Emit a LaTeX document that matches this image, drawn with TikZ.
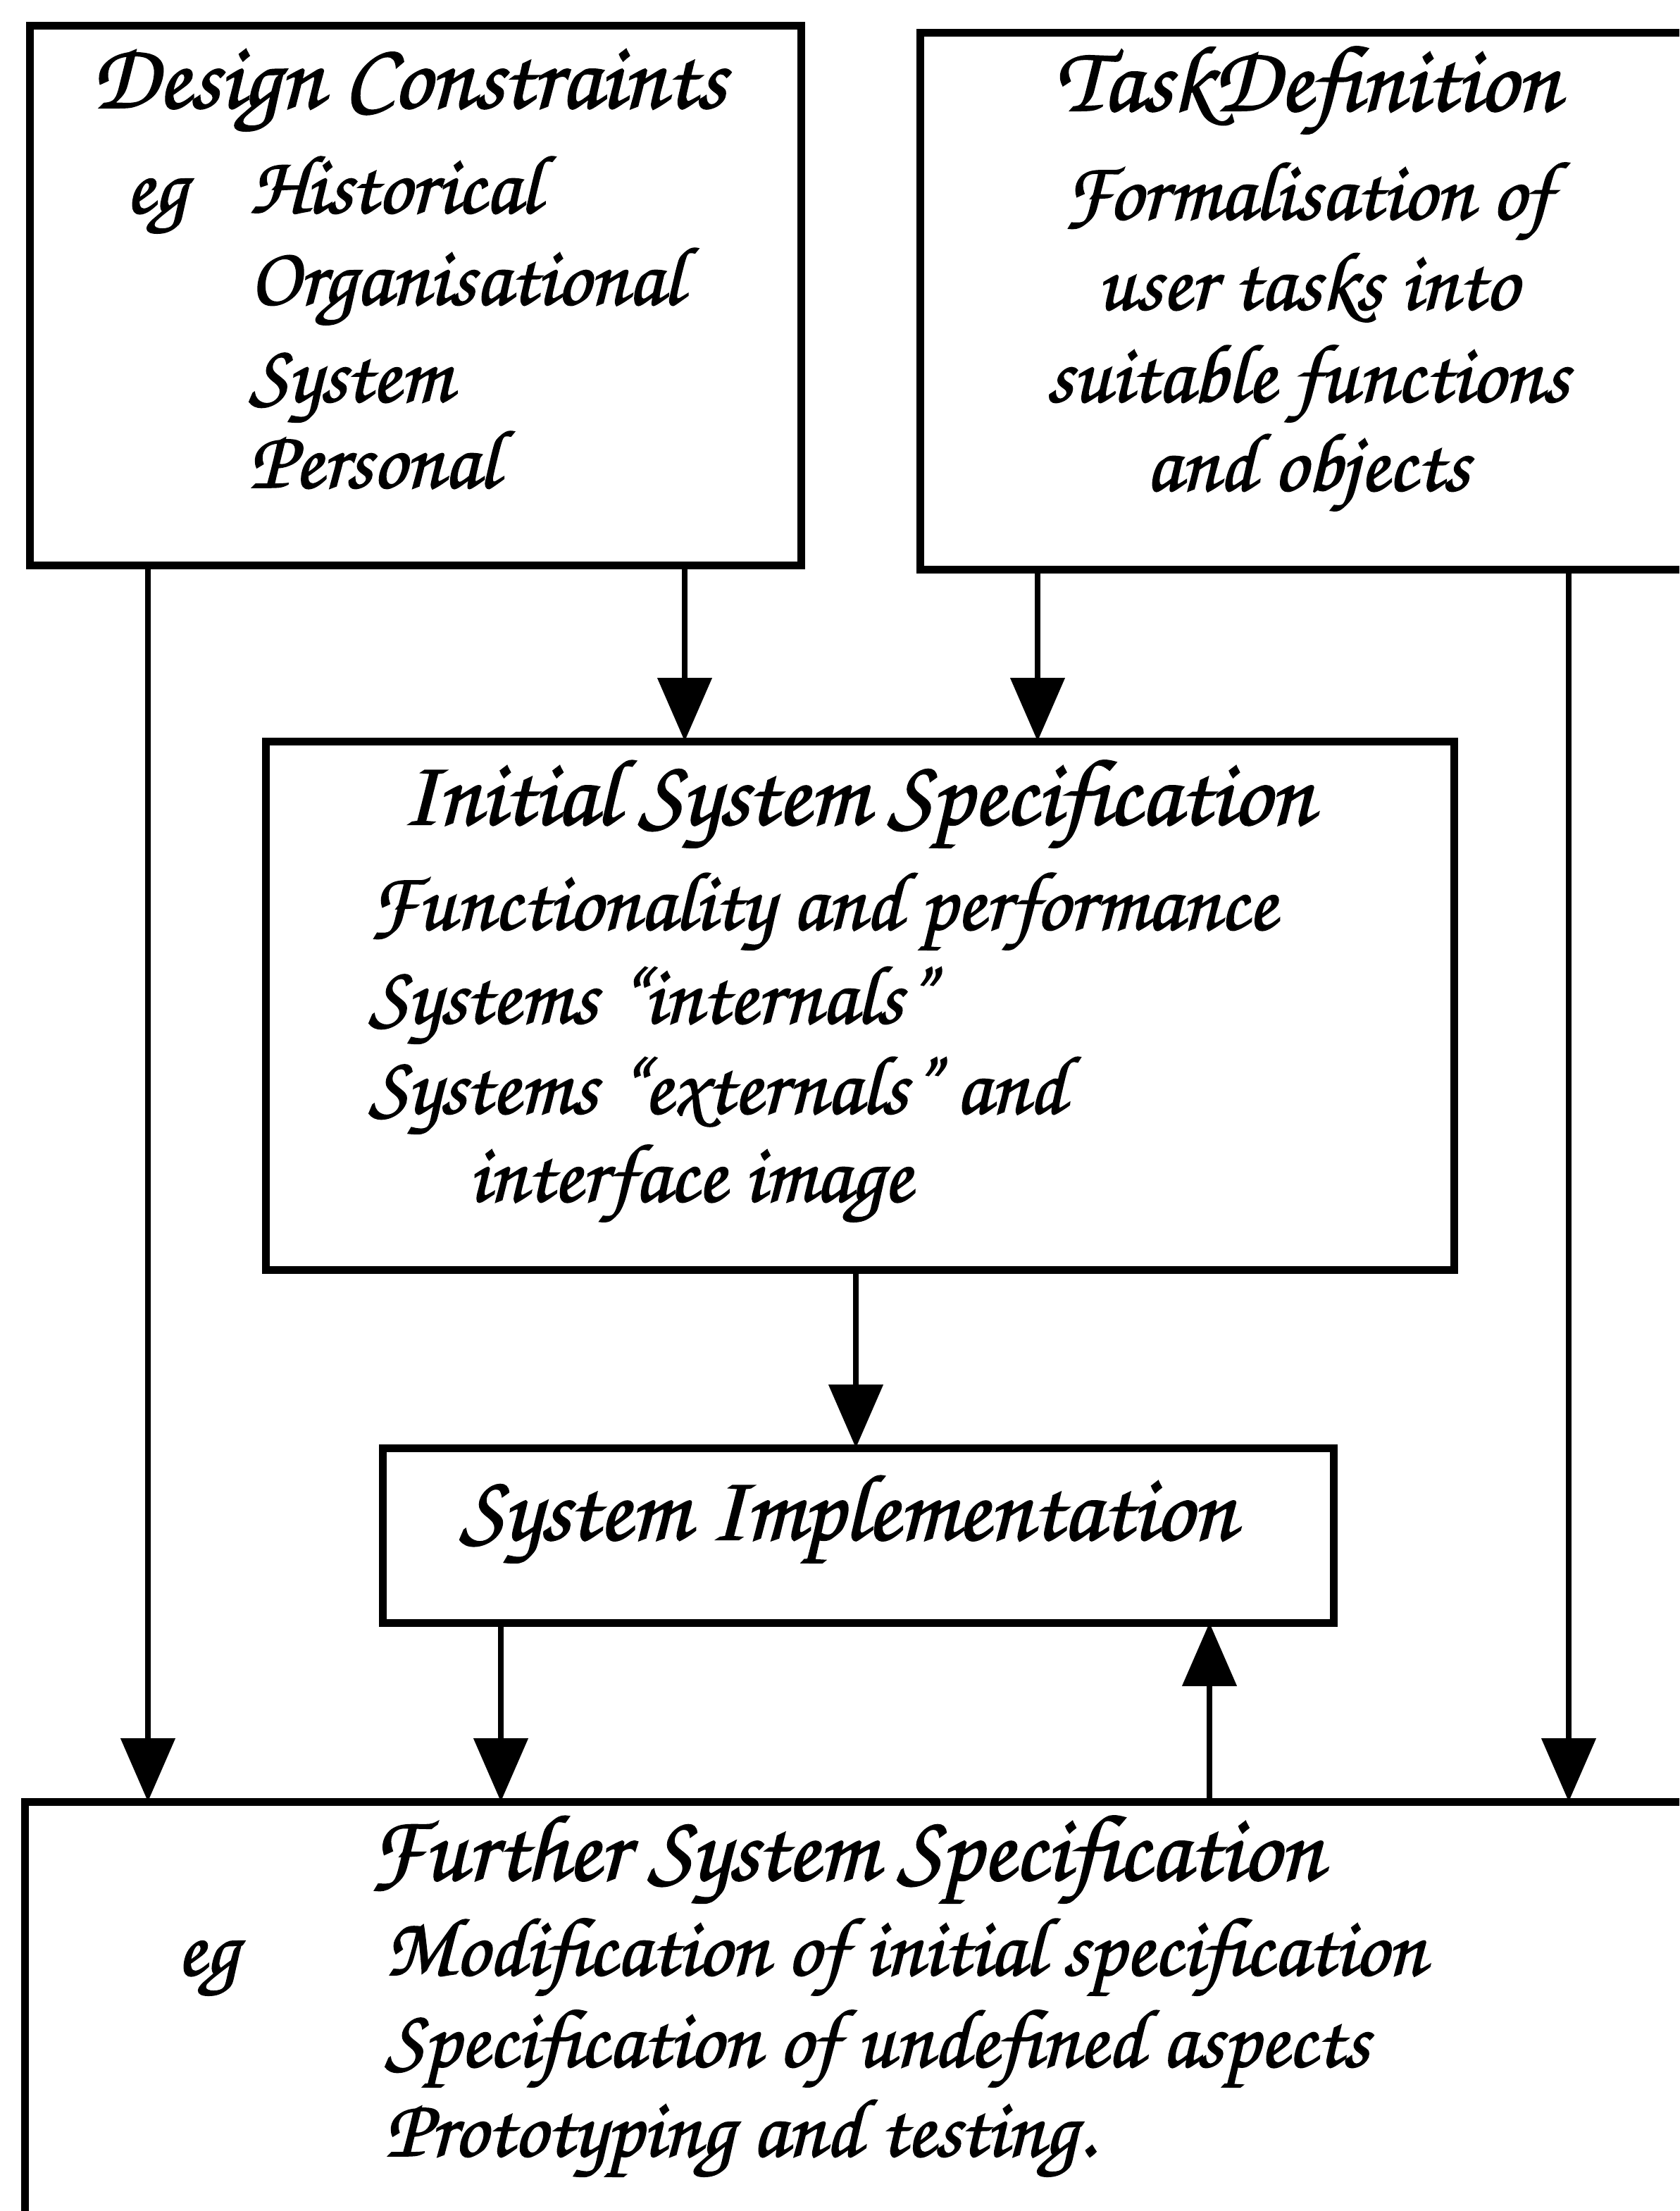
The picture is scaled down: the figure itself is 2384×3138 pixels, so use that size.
\documentclass[tikz,border=0pt]{standalone}
\usepackage{fontspec}
\usetikzlibrary{arrows.meta,fit}
% TeX Gyre Chorus, a chancery italic, loaded by file name
\newfontfamily\chorus{texgyrechorus-mediumitalic.otf}[FakeBold=1.6]

\begin{document}
\begin{tikzpicture}[x=0.1mm,y=-0.1mm,
  box/.style={draw, line width=1.1mm, rectangle, inner sep=0pt, outer sep=0pt},
  txt/.style={inner sep=0pt, outer sep=0pt, anchor=base west,
    font=\chorus\fontsize{33.5pt}{40pt}\selectfont},
  head/.style={txt, font=\chorus\fontsize{38pt}{44pt}\selectfont},
  ctxt/.style={txt, anchor=base},
  flow/.style={line width=0.8mm, -{Triangle[length=9mm,width=7.6mm]}}
]
\clip (0,0) rectangle (2384,3138);
\useasboundingbox (0,0) rectangle (2384,3138);

% boxes
\node[box, fit={(42,37) (1137,802)}] (dc) {};
\node[box, fit={(1306,47) (2440,808)}] (td) {};
\node[box, fit={(377,1052) (2064,1802)}] (iss) {};
\node[box, fit={(543,2055) (1893,2303)}] (si) {};
\node[box, fit={(35,2557) (2440,3175)}] (fss) {};

% design constraints
\node[head] (dct) at (130,153) {Design Constraints};
\node[txt] (dceg) at (178,302) {eg};
\node[txt] (dc1) at (354,302) {Historical};
\node[txt] (dc2) at (354,432) {Organisational};
\node[txt] (dc3) at (354,570) {System};
\node[txt] (dc4) at (354,692) {Personal};

% task definition
\node[head, anchor=base] (tdt) at (1856,157) {TaskDefinition};
\node[ctxt] (td1) at (1856,311) {Formalisation of};
\node[ctxt] (td2) at (1856,439) {user tasks into};
\node[ctxt] (td3) at (1856,570) {suitable functions};
\node[ctxt] (td4) at (1856,696) {and objects};

% initial system specification
\node[head] (isst) at (570,1170) {Initial System Specification};
\node[txt] (iss1) at (524,1319) {Functionality and performance};
\node[txt] (iss2) at (524,1452) {Systems “internals”};
\node[txt] (iss3) at (524,1580) {Systems “externals” and};
\node[txt] (iss4) at (665,1705) {interface image};

% system implementation
\node[head] (sit) at (653,2185) {System Implementation};

% further system specification
\node[head] (fsst) at (524,2668) {Further System Specification};
\node[txt] (fsseg) at (251,2803) {eg};
\node[txt] (fss1) at (547,2803) {Modification of initial specification};
\node[txt] (fss2) at (547,2933) {Specification of undefined aspects};
\node[txt] (fss3) at (547,3060) {Prototyping and testing.};

% connector columns
\coordinate (ca) at (210,0);
\coordinate (cb) at (972,0);
\coordinate (cc) at (1473,0);
\coordinate (cd) at (2227,0);
\coordinate (ce) at (1215,0);
\coordinate (cf) at (711,0);
\coordinate (cg) at (1717,0);

\draw[flow] (dc.south -| ca) -- (fss.north -| ca);
\draw[flow] (dc.south -| cb) -- (iss.north -| cb);
\draw[flow] (td.south -| cc) -- (iss.north -| cc);
\draw[flow] (td.south -| cd) -- (fss.north -| cd);
\draw[flow] (iss.south -| ce) -- (si.north -| ce);
\draw[flow] (si.south -| cf) -- (fss.north -| cf);
\draw[flow] (fss.north -| cg) -- (si.south -| cg);
\end{tikzpicture}
\end{document}
